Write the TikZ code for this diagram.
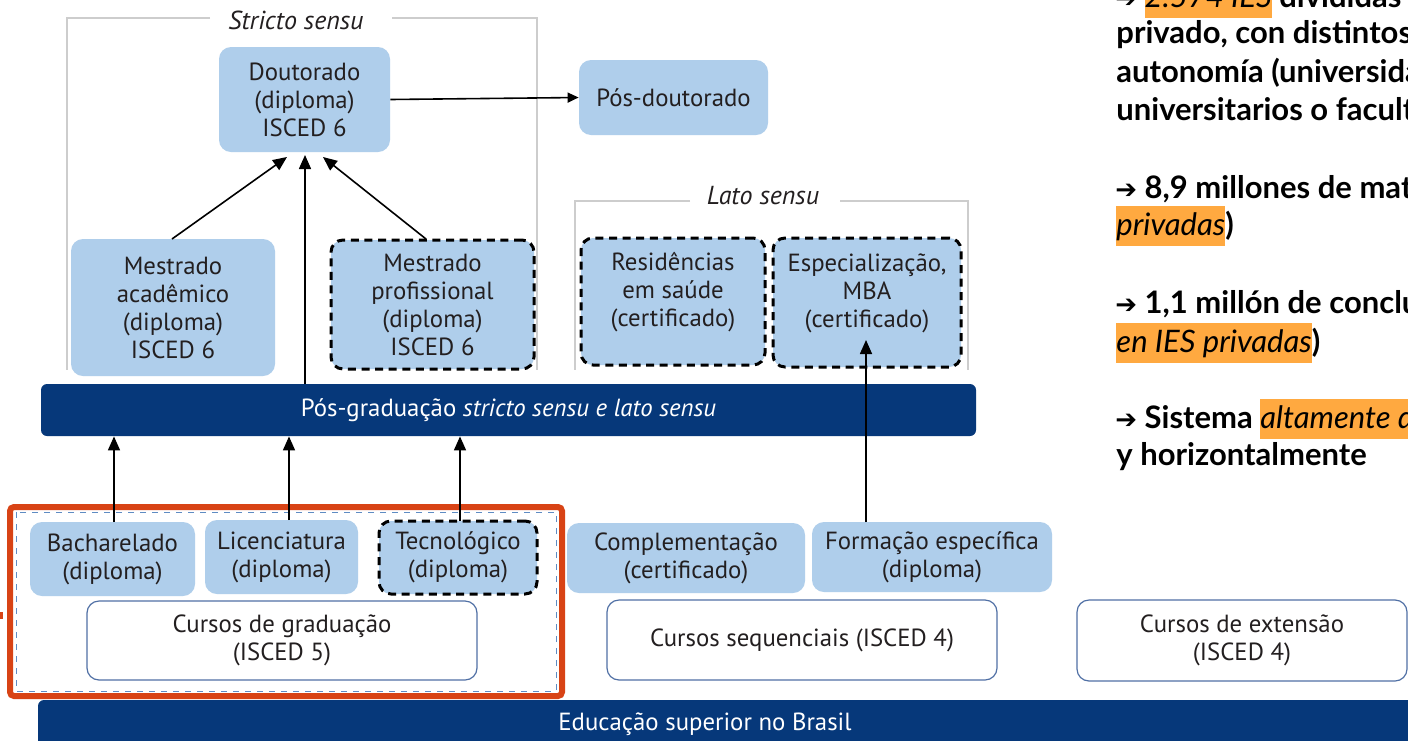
\documentclass[tikz,border=0pt]{standalone}
\usepackage{fontspec}
\usetikzlibrary{arrows.meta}
\newfontfamily\diag{PT Sans}
\newfontfamily\side{Lato}
\newfontfamily\dejavu{DejaVu Sans}
\definecolor{lightblue}{RGB}{175,206,235}
\definecolor{darkbar}{RGB}{6,56,122}
\definecolor{redframe}{RGB}{216,67,21}
\definecolor{hlorange}{RGB}{255,169,64}
\definecolor{wborder}{RGB}{80,112,165}
\definecolor{framegray}{RGB}{205,205,205}
\definecolor{txt}{RGB}{35,31,32}
\definecolor{innerdash}{RGB}{95,140,195}
\newcommand\hlw[1]{{\setlength{\fboxsep}{0pt}\colorbox{hlorange}{\rule[-5.5pt]{0pt}{20pt}\mdseries\itshape #1}}}
\newcommand\arw{{\dejavu\fontsize{13}{13}\selectfont ➔}\ }
\newcommand\upshift[1]{\raisebox{0pt}[\height][\dimexpr\depth+9pt\relax]{#1}}
% \bx{style}{x1}{y1}{x2}{y2}{name}{text}
\newcommand\bx[7]{\node[#1, minimum width={(#4-#2)*0.5pt}, minimum height={(#5-#3)*0.5pt}] (#6) at ({(#2+#4)/2},{(#3+#5)/2}) {#7};}
\tikzset{
  x=0.5pt, y=-0.5pt,
  bbox/.style={fill=lightblue, rounded corners=6pt, inner sep=0pt, align=center,
    font=\diag\fontsize{12.4}{14}\selectfont, text=txt},
  dbox/.style={bbox, draw=black, line width=1.5pt, dash pattern=on 4pt off 2.8pt},
  wbox/.style={bbox, fill=white, draw=wborder, line width=0.6pt},
  barbox/.style={fill=darkbar, rounded corners=3pt, inner sep=0pt, align=center,
    font=\diag\fontsize{12.4}{14}\selectfont, text=white},
  frameline/.style={draw=framegray, line width=0.6pt},
  ftitle/.style={font=\diag\itshape\fontsize{13}{14}\selectfont, text=txt, inner sep=0pt},
  arr/.style={-{Triangle[length=7pt,width=6pt]}, line width=0.8pt, draw=black},
  sarr/.style={-{Triangle[length=5.5pt,width=5pt]}, line width=0.8pt, draw=black},
  sidetxt/.style={font=\side\bfseries\fontsize{15.5}{19}\selectfont, anchor=base west, inner sep=0pt, text=black}
}
\begin{document}
\begin{tikzpicture}
\useasboundingbox (0,0) rectangle (1408,740);
\clip (0,0) rectangle (1408,740);
\fill[white] (0,0) rectangle (1408,740);

% frames
\draw[frameline] (210,18) -- (67,18) -- (67,370);
\draw[frameline] (392,18) -- (537,18) -- (537,370);
\node[ftitle] (sstitle) at (296,20) {Stricto sensu};
\draw[frameline] (690,201) -- (575,201) -- (575,370);
\draw[frameline] (840,201) -- (968,201) -- (968,370);
\node[ftitle] (lstitle) at (763,196) {Lato sensu};

% top boxes
\bx{bbox}{219}{47}{390}{152}{dout}{Doutorado\\(diploma)\\ISCED 6}
\bx{bbox}{579}{60}{768}{135}{posdout}{Pós-doutorado}
\bx{bbox}{71}{239}{275}{376}{macad}{Mestrado\\acadêmico\\(diploma)\\ISCED 6}
\bx{dbox}{331}{240}{534}{369}{mprof}{Mestrado\\profissional\\(diploma)\\ISCED 6}
\bx{dbox}{581}{238}{765}{365}{resid}{\upshift{\begin{tabular}{@{}c@{}}Residências\\em saúde\\(certificado)\end{tabular}}}
\bx{dbox}{773}{238}{961}{367}{espec}{\upshift{\begin{tabular}{@{}c@{}}Especialização,\\MBA\\(certificado)\end{tabular}}}

% bar
\bx{barbox}{41}{384}{976}{436}{pgbar}{Pós-graduação \textit{stricto sensu e lato sensu}}

% red frame and inner dashed frame
\draw[innerdash, line width=0.5pt, dash pattern=on 3pt off 3pt] (16,512) rectangle (556,691);
\draw[redframe, line width=3pt, rounded corners=2pt] (10,507) rectangle (562,696);
\fill[redframe] (0,612) rectangle (3,619);

% graduation boxes
\bx{bbox}{30}{522}{195}{596}{bach}{Bacharelado\\(diploma)}
\bx{bbox}{205}{520}{358}{594}{lic}{Licenciatura\\(diploma)}
\bx{dbox}{379}{521}{537}{594}{tec}{Tecnológico\\(diploma)}
\bx{bbox}{567}{523}{805}{593}{compl}{Complementação\\(certificado)}
\bx{bbox}{812}{522}{1052}{592}{form}{Formação específica\\(diploma)}
\bx{wbox}{87}{601}{477}{680}{cgrad}{Cursos de graduação\\(ISCED 5)}
\bx{wbox}{607}{600}{997}{680}{cseq}{Cursos sequenciais (ISCED 4)}
\bx{wbox}{1077}{600}{1407}{681}{cext}{Cursos de extensão\\(ISCED 4)}
\bx{barbox}{38}{700}{1430}{770}{edbar}{}
\node[font=\diag\fontsize{12.4}{14}\selectfont, text=white, inner sep=0pt] (edtxt) at (705,724) {Educação superior no Brasil};

% connectors
\coordinate (dA) at (287,157);
\coordinate (dB) at (305,155);
\coordinate (dC) at (323,157);
\coordinate (mA) at (172,239);
\coordinate (mB) at (426,239);
\coordinate (pB) at (305,384);
\draw[sarr] (dout.east) -- (posdout.west);
\draw[arr] (mA) -- (dA);
\draw[arr] (pB) -- (dB);
\draw[arr] (mB) -- (dC);
\coordinate (bA) at (114,522);
\coordinate (bB) at (289,520);
\coordinate (bC) at (460,521);
\draw[arr] (bA) -- (bA |- pgbar.south);
\draw[arr] (bB) -- (bB |- pgbar.south);
\draw[arr] (bC) -- (bC |- pgbar.south);
\coordinate (fA) at (866,522);
\coordinate (eA) at (866,340);
\draw[arr] (fA) -- (eA);

% side text
\node[sidetxt] (s1) at (1115,7) {\arw\hlw{2.574 IES} divididas entre el sector público y};
\node[sidetxt] (s2) at (1116,43) {privado, con distintos niveles de};
\node[sidetxt] (s3) at (1116,82) {autonomía (universidades, centros};
\node[sidetxt] (s4) at (1116,120) {universitarios o facultades)};
\node[sidetxt] (s5) at (1115,198) {\arw 8,9 millones de matrículas (76\% en IES};
\node[sidetxt] (s6) at (1116,235) {\hlw{privadas})};
\node[sidetxt] (s7) at (1115,313) {\arw 1,1 millón de concluyentes (79\%};
\node[sidetxt] (s8) at (1116,352) {\hlw{en IES privadas})};
\node[sidetxt] (s9) at (1115,428) {\arw Sistema \hlw{altamente diversificado} vertical};
\node[sidetxt] (s10) at (1116,465) {y horizontalmente};
\end{tikzpicture}
\end{document}
